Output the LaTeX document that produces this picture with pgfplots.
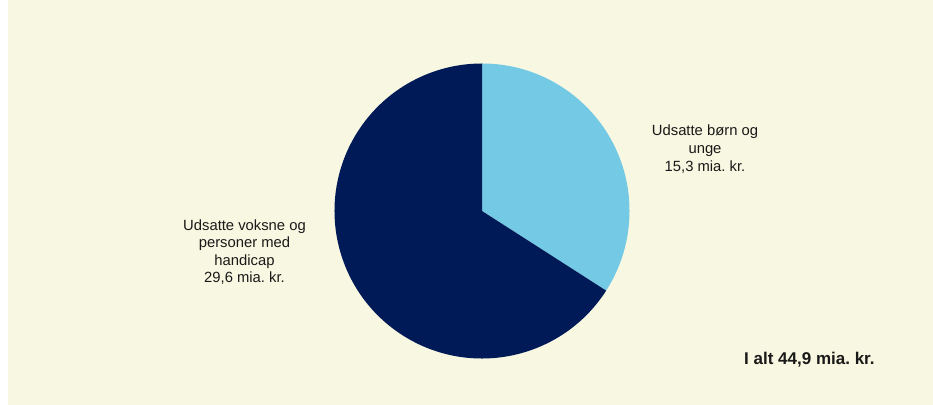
\documentclass[border=0pt]{standalone}
\usepackage{pgfplots}
\pgfplotsset{compat=1.18}
\usepackage{fontspec}
\setmainfont{Liberation Sans}
\frenchspacing
\definecolor{bgbeige}{RGB}{248,247,225}
\definecolor{navy}{RGB}{0,26,87}
\definecolor{lightblue}{RGB}{116,201,229}
\begin{document}
\begin{tikzpicture}
% data (mia. kr.)
\def\valA{15.3}% Udsatte boern og unge
\def\valB{29.6}% Udsatte voksne og personer med handicap
\pgfmathsetmacro{\total}{\valA+\valB}
\pgfmathsetmacro{\angA}{90-360*\valA/\total}
\begin{axis}[
  scale only axis, width=933bp, height=405bp,
  xmin=0, xmax=933, ymin=0, ymax=405,
  hide axis, clip=false,
]
\fill[white] (axis cs:0,0) rectangle (axis cs:933,405);
\fill[bgbeige] (axis cs:8,0) rectangle (axis cs:933,405);
% pie: centre (482,194), radius 147.5
\fill[lightblue] (axis cs:482,194) -- ++(90:147.5bp) arc[start angle=90, end angle=\angA, radius=147.5bp] -- cycle;
\fill[navy] (axis cs:482,194) -- ++(\angA:147.5bp) arc[start angle=\angA, end angle=-270, radius=147.5bp] -- cycle;
\node[align=center, font=\fontsize{14.8bp}{17.6bp}\selectfont, text=black!90]
  at (axis cs:705,256) {Udsatte børn og\\unge\\15,3 mia. kr.};
\node[align=center, font=\fontsize{14.8bp}{17.6bp}\selectfont, text=black!90]
  at (axis cs:244.5,153) {Udsatte voksne og\\personer med\\handicap\\29,6 mia. kr.};
\node[anchor=base west, inner sep=0pt, font=\fontsize{17bp}{19bp}\selectfont\bfseries, text=black!90]
  at (axis cs:744,40) {I alt 44,9 mia. kr.};
\end{axis}
\end{tikzpicture}
\end{document}
